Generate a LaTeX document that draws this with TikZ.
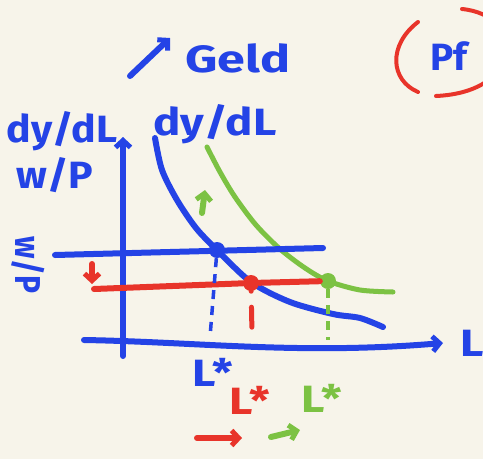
\documentclass[tikz,border=0pt]{standalone}
\usepackage{fontspec}
\setmainfont{Fira Sans}
\usetikzlibrary{arrows.meta}
\definecolor{paper}{HTML}{F7F4EA}
\definecolor{bluepen}{HTML}{2443E6}
\definecolor{redpen}{HTML}{E8342A}
\definecolor{greenpen}{HTML}{7CC243}

\begin{document}
\begin{tikzpicture}[
    x=1pt, y=-1pt,
    ink/.style={line width=6pt, line cap=round, line join=round, color=#1},
    dashink/.style={line width=3.5pt, color=#1, dash pattern=on 9pt off 7pt},
    barb/.style={-{Straight Barb[length=7pt, width=15pt, line width=5pt]}},
    lbl/.style={font=\fontsize{38}{38}\selectfont\bfseries, text=#1, inner sep=0pt, xscale=1.2},
    dot/.style={circle, fill=#1, inner sep=0pt, minimum size=16pt},
]

% ════════════════════════════════════════
% Paper
% ════════════════════════════════════════
\fill[paper] (0,0) rectangle (483,459);
\useasboundingbox (0,0) rectangle (483,459);

% ════════════════════════════════════════
% Heading
% ════════════════════════════════════════
\coordinate (up0) at (130,76);
\coordinate (up1) at (170,38);
\draw[ink=bluepen, barb] (up0) -- (up1);
\node[lbl=bluepen, anchor=west, xscale=1.1] (geld) at (185,58) {Geld};

\draw[ink=redpen, line width=4pt] (418,22) .. controls (388,45) and (390,80) .. (418,92);
\draw[ink=redpen, line width=4pt] (462,9) .. controls (525,15) and (525,92) .. (436,96);
\node[lbl=bluepen, anchor=west, xscale=0.85] (pf) at (430,56) {Pf};

% ════════════════════════════════════════
% Axes
% ════════════════════════════════════════
\coordinate (ybot) at (123,356);
\coordinate (ytop) at (123,137);
\coordinate (xleft) at (84,340);
\coordinate (xright) at (443,343);
\draw[ink=bluepen, barb] (ybot) -- (ytop);
\draw[ink=bluepen, barb] (xleft) .. controls (200,342) and (300,355) .. (xright);

\node[lbl=bluepen, xscale=0.9] (ylab) at (62,131) {dy/dL};
\node[lbl=bluepen, xscale=0.9] (ylab2) at (55,175) {w/P};
\node[lbl=bluepen] (xlab) at (472,343) {L};
\node[lbl=bluepen, rotate=-90, font=\fontsize{30}{30}\selectfont\bfseries] (wp) at (28,265) {w/P};

% ════════════════════════════════════════
% Curves dy/dL (before and after)
% ════════════════════════════════════════
\draw[ink=bluepen] plot[smooth] coordinates
    {(155,138) (162,170) (177,200) (196,228) (217,250) (251,282) (290,302) (333,314) (360,318) (383,327)};
\draw[ink=greenpen, line width=5pt] plot[smooth] coordinates
    {(207,147) (220,172) (235,197) (256,225) (280,249) (305,268) (328,281) (360,290) (393,292)};
\node[lbl=bluepen] (clab) at (215,124) {dy/dL};

% shift of the curve
\coordinate (gup0) at (202,213);
\coordinate (gup1) at (205,190);
\draw[ink=greenpen, barb] (gup0) -- (gup1);

% ════════════════════════════════════════
% Real wage lines
% ════════════════════════════════════════
\node[dot=bluepen] (eq0) at (217,250) {};
\node[dot=redpen] (eq1) at (251,283) {};
\node[dot=greenpen] (eq2) at (328,281) {};

\coordinate (wage0) at (55,255);
\coordinate (wage0e) at (323,248);
\draw[ink=bluepen] (wage0) -- (wage0e);

\coordinate (wage1) at (94,289);
\draw[ink=redpen] (wage1) -- (eq1) -- (eq2);

\coordinate (rdn0) at (92,264);
\coordinate (rdn1) at (92,284);
\draw[ink=redpen, barb] (rdn0) -- (rdn1);

% ════════════════════════════════════════
% Drop lines and L*
% ════════════════════════════════════════
\coordinate (d0) at (210,337);
\coordinate (d1) at (252,334);
\coordinate (d2) at (328,340);
\draw[dashink=bluepen] (eq0) -- (d0);
\draw[dashink=redpen, line width=5pt, line cap=round, dash pattern=on 0pt off 16pt on 20pt off 50pt] (eq1) -- (d1);
\draw[dashink=greenpen] (eq2) -- (d2);

\node[lbl=bluepen] (ls0) at (213,372) {L*};
\node[lbl=redpen] (ls1) at (250,400) {L*};
\node[lbl=greenpen] (ls2) at (322,398) {L*};

% ════════════════════════════════════════
% Movement arrows
% ════════════════════════════════════════
\coordinate (ra0) at (197,438);
\coordinate (ra1) at (242,438);
\draw[ink=redpen, barb] (ra0) -- (ra1);
\coordinate (ga0) at (271,437);
\coordinate (ga1) at (300,430);
\draw[ink=greenpen, barb] (ga0) -- (ga1);

\end{tikzpicture}
\end{document}
